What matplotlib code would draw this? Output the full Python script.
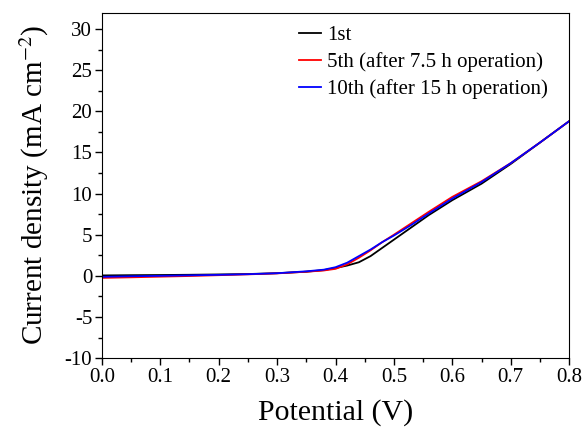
import matplotlib
matplotlib.use("Agg")
import matplotlib.pyplot as plt
from matplotlib.ticker import MultipleLocator

plt.rcParams['font.family'] = ['Liberation Serif', 'DejaVu Serif']
plt.rcParams['mathtext.fontset'] = 'stix'
plt.rcParams['axes.unicode_minus'] = False

# potential (V) and current density (mA cm^-2)
potential = [0, 0.05, 0.1, 0.15, 0.2, 0.25, 0.3, 0.35, 0.38, 0.40, 0.42, 0.44,
             0.46, 0.48, 0.50, 0.53, 0.56, 0.60, 0.65, 0.70, 0.75, 0.80]
first = [0.05, 0.08, 0.1, 0.13, 0.17, 0.22, 0.32, 0.5, 0.7, 0.95, 1.25, 1.65,
         2.4, 3.4, 4.4, 5.9, 7.4, 9.2, 11.2, 13.6, 16.2, 18.8]
fifth = [-0.25, -0.18, -0.1, -0.02, 0.08, 0.18, 0.3, 0.5, 0.65, 0.85, 1.4, 2.2,
         3.1, 4.1, 5.0, 6.4, 7.8, 9.6, 11.5, 13.7, 16.2, 18.8]
tenth = [-0.12, -0.05, 0.0, 0.06, 0.12, 0.2, 0.32, 0.55, 0.75, 1.05, 1.6, 2.4,
         3.2, 4.1, 4.9, 6.2, 7.6, 9.4, 11.4, 13.7, 16.2, 18.8]
labels = ["1st", "5th (after 7.5 h operation)", "10th (after 15 h operation)"]
colors = ["black", "red", "blue"]

fig = plt.figure(figsize=(5.82, 4.32), dpi=100)
ax = fig.add_axes([0.175, 0.171, 0.803, 0.8])

for ys, lab, c in zip([first, fifth, tenth], labels, colors):
    ax.plot(potential, ys, color=c, lw=1.3, label=lab)

ax.set_xlim(0, 0.8)
ax.set_ylim(-10, 32)
ax.xaxis.set_major_locator(MultipleLocator(0.1))
ax.xaxis.set_minor_locator(MultipleLocator(0.05))
ax.yaxis.set_major_locator(MultipleLocator(5))
ax.yaxis.set_minor_locator(MultipleLocator(2.5))
ax.tick_params(which='both', direction='out', top=False, right=False,
               labelsize=15, width=1)
ax.tick_params(which='major', length=5, pad=2)
ax.tick_params(which='minor', length=3)
ax.xaxis.set_major_formatter(plt.FormatStrFormatter('%.1f'))

ax.set_xlabel("Potential (V)", fontsize=21.5, labelpad=9)
ax.set_ylabel("Current density (mA cm$^{-2}$)", fontsize=21, labelpad=10)

ax.legend(loc='upper right', frameon=False, fontsize=15, handlelength=1.05,
          handletextpad=0.3, labelspacing=0.34, borderaxespad=0.4,
          bbox_to_anchor=(0.99, 1.01))

fig.savefig("out.png", dpi=100)
